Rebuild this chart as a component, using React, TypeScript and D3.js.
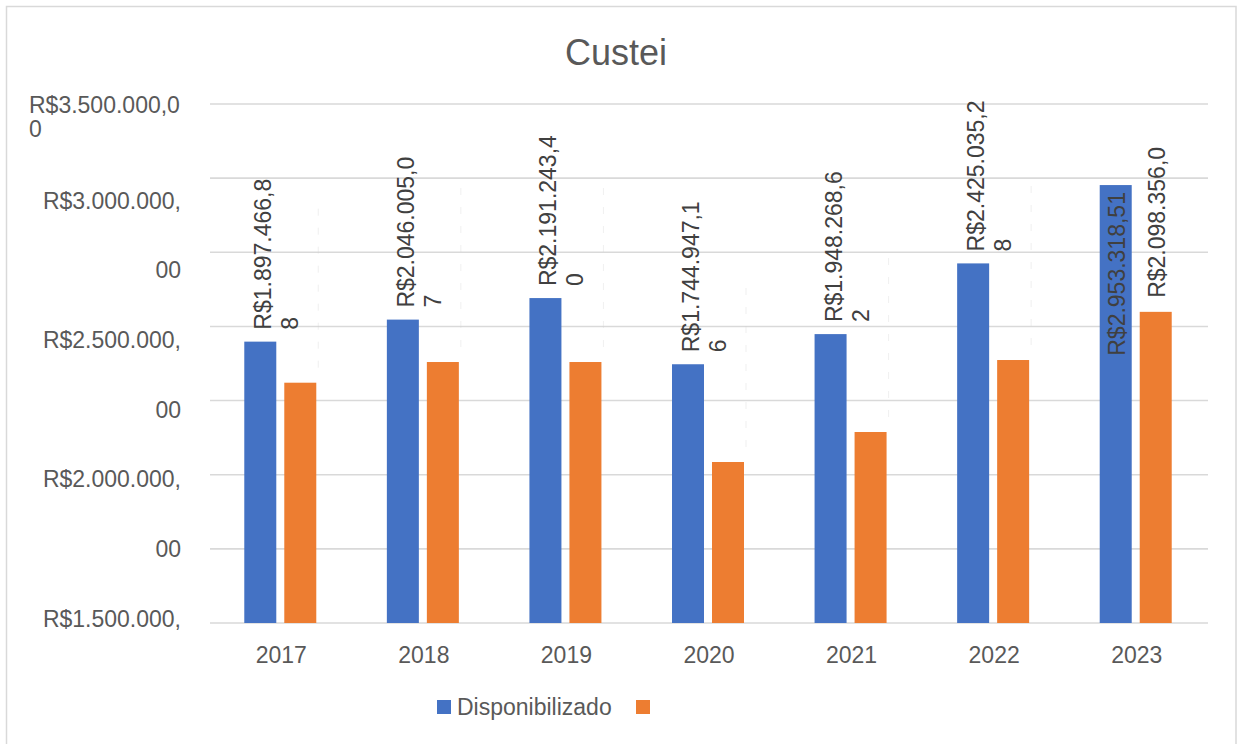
import React from "react";
import * as d3 from "d3";

const years = ["2017", "2018", "2019", "2020", "2021", "2022", "2023"];
const disponibilizado = [1897466.88, 2046005.07, 2191243.4, 1744947.16, 1948268.62, 2425035.28, 2953318.51];
const segundaSerie = [1620500, 1760000, 1760000, 1085700, 1288000, 1773500, 2098356.05];
const seriesNames = ["Disponibilizado", ""];
const seriesColors = ["#4472C4", "#ED7D31"];
const blueLabelMode = ["wrap", "wrap", "wrap", "wrap", "wrap", "wrap", "inside"];
const orangeLabelMode = ["ghost", "ghost", "ghost", "ghost", "ghost", "ghost", "single"];
const yTickLabelLines = [
  ["R$3.500.000,0", "0"],
  ["R$3.000.000,", "00"],
  ["R$2.500.000,", "00"],
  ["R$2.000.000,", "00"],
  ["R$1.500.000,", "00"],
];
const title = "Custei";

const W = 1240;
const H = 744;
const P = { left: 210, right: 1208, top: 104, bottom: 623 };
const FONT = "'Liberation Sans', Arial, sans-serif";
const TEXT = "#595959";
const LABEL = "#404040";
const GRID = "#d9d9d9";

const locale = d3.formatLocale({ decimal: ",", thousands: ".", grouping: [3], currency: ["R$", ""] });
const fmt = locale.format("$,.2f");

export default function App() {
  const x = d3.scaleBand<string>().domain(years).range([P.left, P.right]);
  const y = d3.scaleLinear().domain([0, 3500000]).range([P.bottom, P.top]);
  const xs = d3.scaleBand<number>().domain([0, 1]).range([0, 72]).paddingInner(0.2);
  const ticks = y.ticks(7);
  const bw = xs.bandwidth();
  const groupX = (yr: string) => (x(yr) as number) + x.bandwidth() / 2 - 37;

  const series = [disponibilizado, segundaSerie];

  const axisLines: { text: string; y: number; anchor: string; x: number }[] = [];
  yTickLabelLines.forEach((lines, i) => {
    if (i === 0) {
      lines.forEach((t, j) => axisLines.push({ text: t, y: 113 + j * 24, anchor: "start", x: 29 }));
    } else {
      lines.forEach((t, j) => {
        const yy = 208.6 + ((i - 1) * 2 + j) * 69.7;
        if (yy < 640) axisLines.push({ text: t, y: yy, anchor: "end", x: 181 });
      });
    }
  });

  return (
    <div style={{ position: "absolute", left: 0, top: 0 }}>
      <svg width={W} height={H} style={{ display: "block", fontFamily: FONT }}>
        <rect x={0} y={0} width={W} height={H} fill="#fff" />
        <rect x={6.5} y={6.5} width={1229.5} height={H} fill="#fff" stroke={GRID} strokeWidth={1.5} />
        <text x={616} y={65} textAnchor="middle" fontSize={36} fill={TEXT}>{title}</text>

        {ticks.map((t) => (
          <line key={t} x1={P.left} x2={P.right} y1={y(t)} y2={y(t)} stroke={GRID} strokeWidth={1.6} />
        ))}

        {axisLines.map((l, i) => (
          <text key={i} x={l.x} y={l.y} textAnchor={l.anchor} fontSize={23} fill={TEXT}>{l.text}</text>
        ))}

        {years.map((yr) => (
          <text key={yr} x={(x(yr) as number) + x.bandwidth() / 2} y={663} textAnchor="middle" fontSize={23} fill={TEXT}>{yr}</text>
        ))}

        {series.map((vals, s) =>
          vals.map((v, i) => {
            const bx = groupX(years[i]) + (xs(s) as number);
            return <rect key={`${s}-${i}`} x={bx} y={y(v)} width={bw} height={y(0) - y(v)} fill={seriesColors[s]} />;
          })
        )}

        {segundaSerie.map((v, i) => {
          if (orangeLabelMode[i] !== "ghost") return null;
          const cx = groupX(years[i]) + (xs(1) as number) + bw / 2 + 18;
          const top = y(v);
          return (
            <line key={`g${i}`} x1={cx} x2={cx} y1={top - 15} y2={top - 175} stroke="#d0d0d0" strokeWidth={1} strokeDasharray="7 12" opacity={0.3} />
          );
        })}

        {disponibilizado.map((v, i) => {
          const cx = groupX(years[i]) + (xs(0) as number) + bw / 2;
          const top = y(v);
          const s = fmt(v);
          if (blueLabelMode[i] === "inside") {
            return (
              <text key={`bl${i}`} transform={`translate(${cx + 9},${top + 7}) rotate(-90)`} textAnchor="end" fontSize={23} fill={LABEL}>{s}</text>
            );
          }
          const lines = [s.slice(0, 13), s.slice(13)];
          return (
            <g key={`bl${i}`}>
              {lines.map((t, j) => (
                <text key={j} transform={`translate(${cx + 11 + j * 27},${top - 12}) rotate(-90)`} textAnchor="start" fontSize={23} fill={LABEL}>{t}</text>
              ))}
            </g>
          );
        })}

        {segundaSerie.map((v, i) => {
          if (orangeLabelMode[i] !== "single") return null;
          const cx = groupX(years[i]) + (xs(1) as number) + bw / 2;
          const top = y(v);
          const s = fmt(v).slice(0, 13);
          return (
            <text key={`ol${i}`} transform={`translate(${cx + 9},${top - 14}) rotate(-90)`} textAnchor="start" fontSize={23} fill={LABEL}>{s}</text>
          );
        })}

        <g>
          <rect x={437} y={700} width={14} height={14} fill={seriesColors[0]} />
          <text x={457} y={715} fontSize={23} fill={TEXT}>{seriesNames[0]}</text>
          <rect x={636} y={700} width={14} height={14} fill={seriesColors[1]} />
          <text x={656} y={715} fontSize={23} fill={TEXT}>{seriesNames[1]}</text>
        </g>
      </svg>
    </div>
  );
}
